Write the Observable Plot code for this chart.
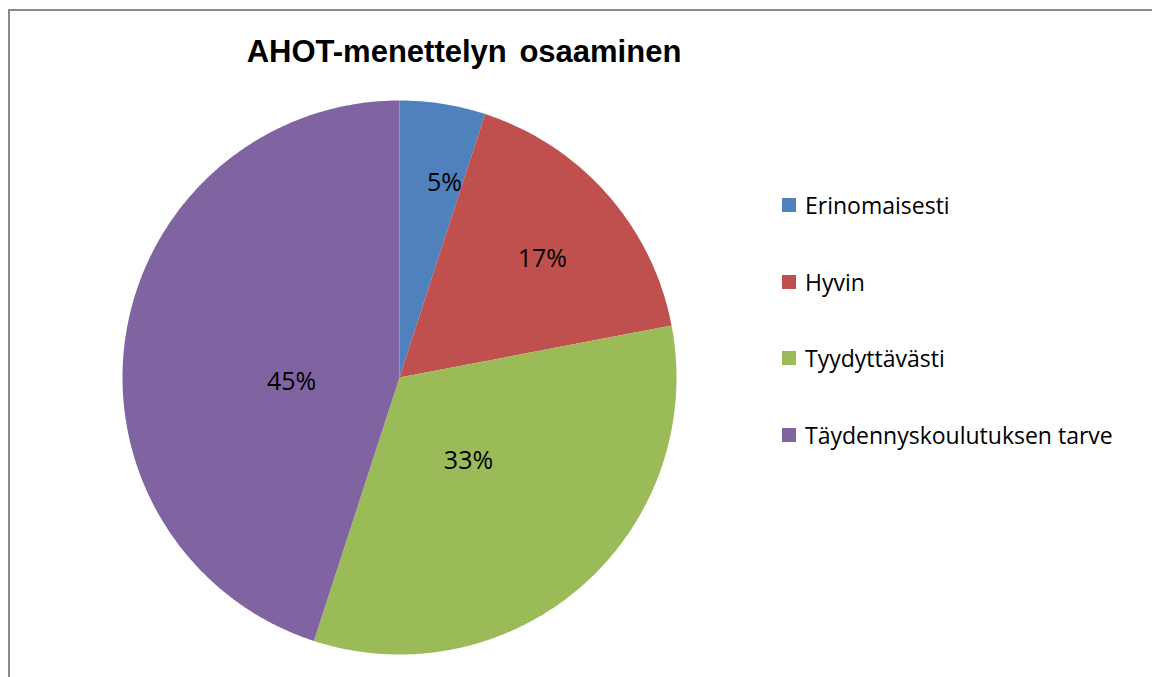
<!DOCTYPE html>
<html>
<head>
<meta charset="utf-8">
<script src="https://cdn.jsdelivr.net/npm/d3@7"></script>
<script src="https://cdn.jsdelivr.net/npm/@observablehq/plot@0.6"></script>
<style>
  html, body { margin: 0; padding: 0; background: #fff; overflow: hidden; }
  #wrap { position: relative; width: 1152px; height: 677px; overflow: hidden; }
  #frame { position: absolute; left: 8px; top: 9px; width: 1200px; height: 720px; border: 2px solid #8a8a8a; box-sizing: border-box; }
  #title { position: absolute; left: 0; width: 928px; top: 36px; text-align: center; font: bold 31px "Liberation Sans", Arial, sans-serif; line-height: 31px; color: #000; word-spacing: 4px; }
  #legend { position: absolute; left: 782px; top: 190px; font: 23px "Open Sans", Lato, sans-serif; color: #000; }
  .item { position: relative; height: 76.5px; }
  .sw { position: absolute; left: 0; top: 8px; width: 14px; height: 14px; }
  .lab { position: absolute; left: 23px; top: 0; white-space: nowrap; line-height: 30px; }
  #chart { position: absolute; left: 0; top: 0; }
</style>
</head>
<body>
<div id="wrap">
  <div id="chart"></div>
  <div id="frame"></div>
  <div id="title">AHOT-menettelyn osaaminen</div>
  <div id="legend"></div>
</div>
<script>
// Data
const categories = ["Erinomaisesti", "Hyvin", "Tyydyttävästi", "Täydennyskoulutuksen tarve"];
const values = [5, 17, 33, 45];
const labels = ["5%", "17%", "33%", "45%"];
const colors = ["#4F81BD", "#C0504D", "#9BBB59", "#8064A2"];

// layout constants (pixel geometry of the figure)
const W = 1152, H = 677, CX = 399, CY = 377, R = 277;

const total = d3.sum(values);
const slices = [];
const labelRows = [];
let acc = 0;
values.forEach((v, i) => {
  const a0 = acc / total * 2 * Math.PI;
  acc += v;
  const a1 = acc / total * 2 * Math.PI;
  const steps = Math.max(2, Math.ceil((a1 - a0) / (Math.PI / 360)));
  slices.push({key: categories[i], x: 0, y: 0});
  for (let s = 0; s <= steps; s++) {
    const a = a0 + (a1 - a0) * s / steps;
    slices.push({key: categories[i], x: Math.sin(a), y: Math.cos(a)});
  }
  slices.push({key: categories[i], x: 0, y: 0});
  const frac = v / total;
  const rr = frac < 0.1 ? 0.72 : frac < 0.25 ? 0.67 : 0.39;
  const shift = frac < 0.1 ? 0.07 : frac > 0.4 ? -0.2 : 0.03;
  const am = (a0 + a1) / 2 + shift;
  labelRows.push({key: categories[i], text: labels[i], x: rr * Math.sin(am), y: rr * Math.cos(am)});
});

const chart = Plot.plot({
  width: W,
  height: H,
  margin: 0,
  axis: null,
  x: {domain: [-CX / R, (W - CX) / R], range: [0, W]},
  y: {domain: [-(H - CY) / R, CY / R], range: [H, 0]},
  color: {domain: categories, range: colors},
  style: {background: "transparent", overflow: "visible"},
  marks: [
    Plot.line(slices, {x: "x", y: "y", z: "key", fill: "key", stroke: "none", curve: "linear"}),
    Plot.text(labelRows, {x: "x", y: "y", text: "text", fill: "#000", fontSize: 25, fontFamily: "'Open Sans', Lato, sans-serif"})
  ]
});
document.getElementById("chart").appendChild(chart);

const legend = document.getElementById("legend");
categories.forEach((c, i) => {
  const it = document.createElement("div");
  it.className = "item";
  const sw = document.createElement("div");
  sw.className = "sw";
  sw.style.background = colors[i];
  const lb = document.createElement("div");
  lb.className = "lab";
  lb.textContent = c;
  it.appendChild(sw); it.appendChild(lb);
  legend.appendChild(it);
});
</script>
</body>
</html>
